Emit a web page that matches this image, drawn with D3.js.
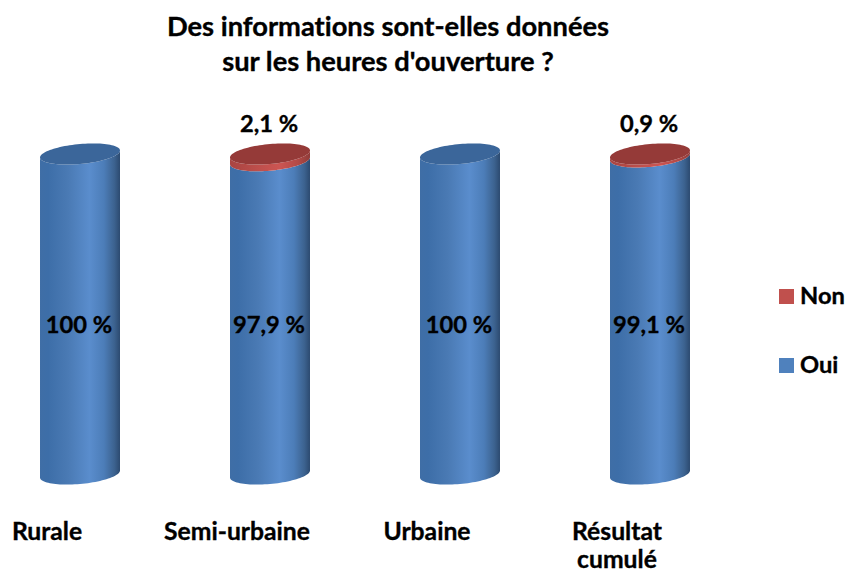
<!DOCTYPE html>
<html><head><meta charset="utf-8">
<style>html,body{margin:0;padding:0;background:#fff;overflow:hidden}svg{display:block}text{font-family:Lato,"Open Sans",sans-serif;font-weight:700;fill:#000;stroke:#000;stroke-width:0.35px;font-variant-ligatures:none}</style>
<script src="https://cdn.jsdelivr.net/npm/d3@7/dist/d3.min.js"></script>
</head><body><script>
const categories = ["Rurale","Semi-urbaine","Urbaine","Résultat cumulé"];
const oui = [100,97.9,100,99.1];
const non = [0,2.1,0,0.9];
const ouiLabels = ["100 %","97,9 %","100 %","99,1 %"];
const nonLabels = ["","2,1 %","","0,9 %"];
const titleLines = ["Des informations sont-elles données","sur les heures d'ouverture ?"];
const legendItems = ["Non","Oui"];
const legendColors = ["#c0504d","#4f81bd"];

const W=847,H=573;
const svg=d3.select("body").append("svg").attr("width",W).attr("height",H);
const x=d3.scaleBand().domain(categories).range([-70,800]).padding(0.579);
const y=d3.scaleLinear().domain([0,100]).range([474,154]);
const rx=x.bandwidth()/2, ry=10, k=3.5;

const defs=svg.append("defs");
function grad(id,stops){const g=defs.append("linearGradient").attr("id",id).attr("x1",0).attr("x2",1).attr("y1",0).attr("y2",0);
 stops.forEach(s=>g.append("stop").attr("offset",s[0]).attr("stop-color",s[1]));}
grad("gb",[[0,"#3f6ea6"],[0.1,"#3d6ea8"],[0.35,"#4a7ab4"],[0.62,"#5a8dcd"],[0.8,"#4c7db8"],[0.93,"#3c628f"],[1,"#2c4a70"]]);
grad("gr",[[0,"#a84441"],[0.4,"#c0504d"],[0.62,"#cc5552"],[0.85,"#b24a47"],[1,"#8f3b39"]]);

function pt(cx,cy,t){return [cx+rx*Math.cos(t),cy+ry*Math.sin(t)-k*Math.cos(t)];}
function arc(cx,cy,a,b,n=48){return d3.range(n+1).map(i=>pt(cx,cy,a+(b-a)*i/n));}
const line=d3.line();
function side(cx,y0,y1){
 const bottom=arc(cx,y0,Math.PI,0), top=arc(cx,y1,0,Math.PI);
 return line(bottom.concat(top))+"Z";
}
function cap(cx,cy){return line(arc(cx,cy,0,2*Math.PI,96))+"Z";}

categories.forEach((c,i)=>{
 const cx=x(c)+x.bandwidth()/2;
 const g=svg.append("g");
 const yo=y(oui[i]), yt=y(oui[i]+non[i]);
 g.append("path").attr("d",side(cx,y(0),yo)).attr("fill","url(#gb)");
 if(non[i]>0){
  g.append("path").attr("d",side(cx,yo,yt)).attr("fill","url(#gr)");
  g.append("path").attr("d",cap(cx,yt)).attr("fill","#953a38");
 } else {
  g.append("path").attr("d",cap(cx,yo)).attr("fill","#3b669a");
 }
 g.append("text").attr("x",cx-1).attr("y",333).attr("text-anchor","middle").attr("font-size",23.7).text(ouiLabels[i]);
 if(nonLabels[i]) g.append("text").attr("x",cx-1).attr("y",132).attr("text-anchor","middle").attr("font-size",23.7).text(nonLabels[i]);
});

const xAxisScale=x.copy().range([-103,767]);
const ax=svg.append("g").attr("transform","translate(0,510)").call(d3.axisBottom(xAxisScale).tickSize(0));
ax.select(".domain").remove();
ax.selectAll("text").attr("font-size",24.7).attr("y",0).attr("dy",null).each(function(d){
 const t=d3.select(this); t.text(null);
 const parts=d==="Résultat cumulé"?["Résultat","cumulé"]:[d];
 parts.forEach((p,j)=>t.append("tspan").attr("x",0).attr("y",30+j*28).text(p));
});

svg.selectAll(".t").data(titleLines).enter().append("text").attr("class","t")
 .attr("x",388).attr("y",(d,i)=>36+i*35).attr("text-anchor","middle").attr("font-size",27.3).text(d=>d);

const lg=svg.selectAll(".l").data(legendItems).enter().append("g").attr("class","l")
 .attr("transform",(d,i)=>`translate(779,${289+i*69})`);
lg.append("rect").attr("width",15).attr("height",15).attr("fill",(d,i)=>legendColors[i]);
lg.append("text").attr("x",21).attr("y",15).attr("font-size",23.7).text(d=>d);
</script></body></html>
